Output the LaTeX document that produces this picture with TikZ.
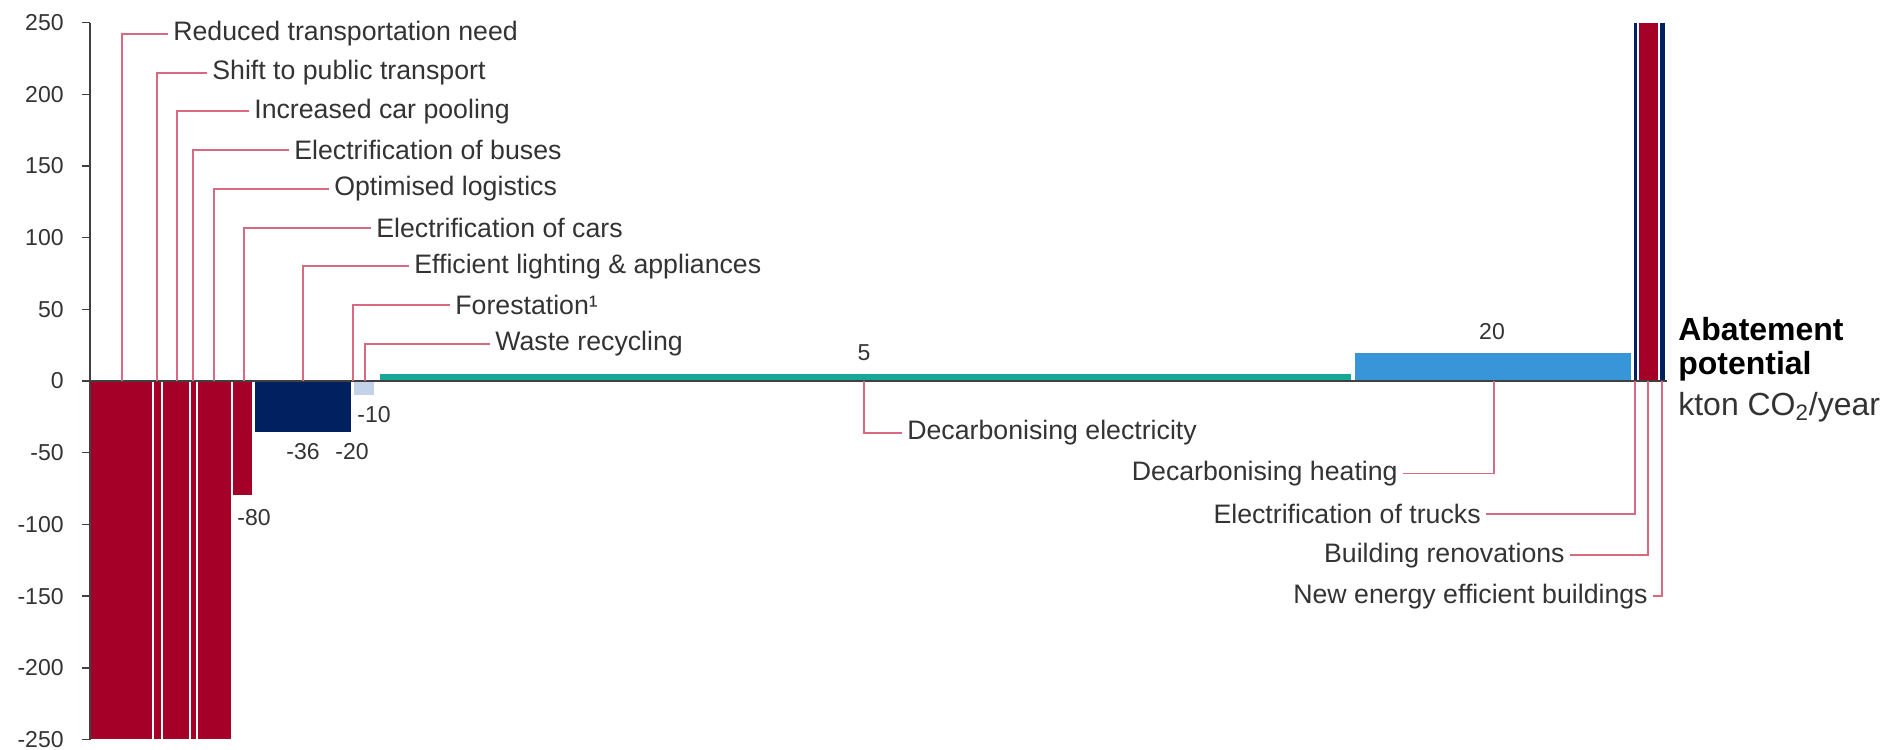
\documentclass[tikz,border=0pt]{standalone}
\usepackage{fontspec}
\setmainfont{Liberation Sans}
\usepackage{tikz}

\definecolor{mred}{HTML}{A50028}
\definecolor{mnavy}{HTML}{002060}
\definecolor{mlight}{HTML}{C3D2E8}
\definecolor{mteal}{HTML}{17A796}
\definecolor{mblue}{HTML}{3896D8}
\definecolor{mpink}{HTML}{D76982}
\definecolor{mtext}{HTML}{333333}
\definecolor{maxis}{HTML}{404040}

\begin{document}
\begin{tikzpicture}[x=0.02cm, y=0.02868cm,
  lab/.style={inner sep=0.1cm, text=mtext, font=\fontsize{15.2}{18}\selectfont},
  val/.style={inner sep=0pt, text=mtext, font=\fontsize{13.1}{15}\selectfont},
  leader/.style={draw=mpink, line width=1.1pt},
  bar/.style={draw=white, line width=0.6pt},
  axis/.style={draw=maxis, line width=0.8pt}]
  \useasboundingbox (0,-257.3) rectangle (1901,265.7);

  % bars below zero
  \filldraw[bar, fill=mred] (90,0) rectangle (153,-250);
  \filldraw[bar, fill=mred] (153,0) rectangle (162,-250);
  \filldraw[bar, fill=mred] (162,0) rectangle (190,-250);
  \filldraw[bar, fill=mred] (190,0) rectangle (197,-250);
  \filldraw[bar, fill=mred] (197,0) rectangle (232,-250);
  \filldraw[bar, fill=mred] (232,0) rectangle (253,-80);
  \filldraw[bar, fill=mnavy] (254,0) rectangle (352,-36);
  \filldraw[bar, fill=mlight] (353,0) rectangle (375,-10);
  % bars above zero
  \filldraw[bar, fill=mteal] (379,0) rectangle (1352,5);
  \filldraw[bar, fill=mblue] (1354,0) rectangle (1632,20);
  \filldraw[bar, fill=mnavy] (1633,0) rectangle (1638,250);
  \filldraw[bar, fill=mred] (1638,0) rectangle (1659,250);
  \filldraw[bar, fill=mnavy] (1659,0) rectangle (1666,250);

  % axes
  \draw[axis] (90,-250) -- (90,250);
  \draw[axis] (90,0) -- (1667,0);
  \foreach \v in {-250,-200,...,250} {
    \draw[axis] (82,\v) -- (90,\v);
    \node[val, anchor=east] (t\v) at (64,\v) {\v};
  }

  % values
  \node[val] (v80) at (254,-95) {-80};
  \node[val] (v36) at (303,-49.5) {-36};
  \node[val] (v20) at (352,-49.5) {-20};
  \node[val] (v10) at (374,-23.7) {-10};
  \node[val] (v5) at (864,19.5) {5};
  \node[val] (v20b) at (1492,34.2) {20};

  % labels above
  \coordinate (rtn) at (122,0);
  \coordinate (spt) at (157,0);
  \coordinate (icp) at (177,0);
  \coordinate (eob) at (193,0);
  \coordinate (opl) at (214,0);
  \coordinate (eoc) at (244,0);
  \coordinate (ela) at (303,0);
  \coordinate (for) at (353,0);
  \coordinate (wre) at (365,0);
  \node[lab, anchor=west] (rtnl) at (168,242) {Reduced transportation need};
  \node[lab, anchor=west] (sptl) at (207,215) {Shift to public transport};
  \node[lab, anchor=west] (icpl) at (249,188) {Increased car pooling};
  \node[lab, anchor=west] (eobl) at (289,161) {Electrification of buses};
  \node[lab, anchor=west] (opll) at (329,134) {Optimised logistics};
  \node[lab, anchor=west] (eocl) at (371,107) {Electrification of cars};
  \node[lab, anchor=west] (elal) at (409,80) {Efficient lighting \& appliances};
  \node[lab, anchor=west] (forl) at (450,53) {Forestation¹};
  \node[lab, anchor=west] (wrel) at (490,26) {Waste recycling};
  \draw[leader] (rtn) |- (rtnl.west);
  \draw[leader] (spt) |- (sptl.west);
  \draw[leader] (icp) |- (icpl.west);
  \draw[leader] (eob) |- (eobl.west);
  \draw[leader] (opl) |- (opll.west);
  \draw[leader] (eoc) |- (eocl.west);
  \draw[leader] (ela) |- (elal.west);
  \draw[leader] (for) |- (forl.west);
  \draw[leader] (wre) |- (wrel.west);

  % labels below
  \coordinate (del) at (864,0);
  \coordinate (dhe) at (1494,0);
  \coordinate (eot) at (1635,0);
  \coordinate (bre) at (1648,0);
  \coordinate (neb) at (1662,0);
  \node[lab, anchor=west] (dell) at (902,-36) {Decarbonising electricity};
  \node[lab, anchor=east] (dhel) at (1403,-64.5) {Decarbonising heating};
  \node[lab, anchor=east] (eotl) at (1486,-93) {Electrification of trucks};
  \node[lab, anchor=east] (brel) at (1570,-121.5) {Building renovations};
  \node[lab, anchor=east] (nebl) at (1653,-150) {New energy efficient buildings};
  \draw[leader] (del) |- (dell.west);
  \draw[leader] (dhe) |- (dhel.east);
  \draw[leader] (eot) |- (eotl.east);
  \draw[leader] (bre) |- (brel.east);
  \draw[leader] (neb) |- (nebl.east);

  % axis title
  \node[anchor=west, inner sep=0pt, align=left, font=\fontsize{18.2}{19.4}\selectfont\bfseries] (title) at (1678,22.3) {Abatement\\potential};
  \node[anchor=west, inner sep=0pt, text=mtext, font=\fontsize{18.2}{21}\selectfont] (unit) at (1678,-18.1) {kton CO\textsubscript{2}/year};
\end{tikzpicture}
\end{document}
